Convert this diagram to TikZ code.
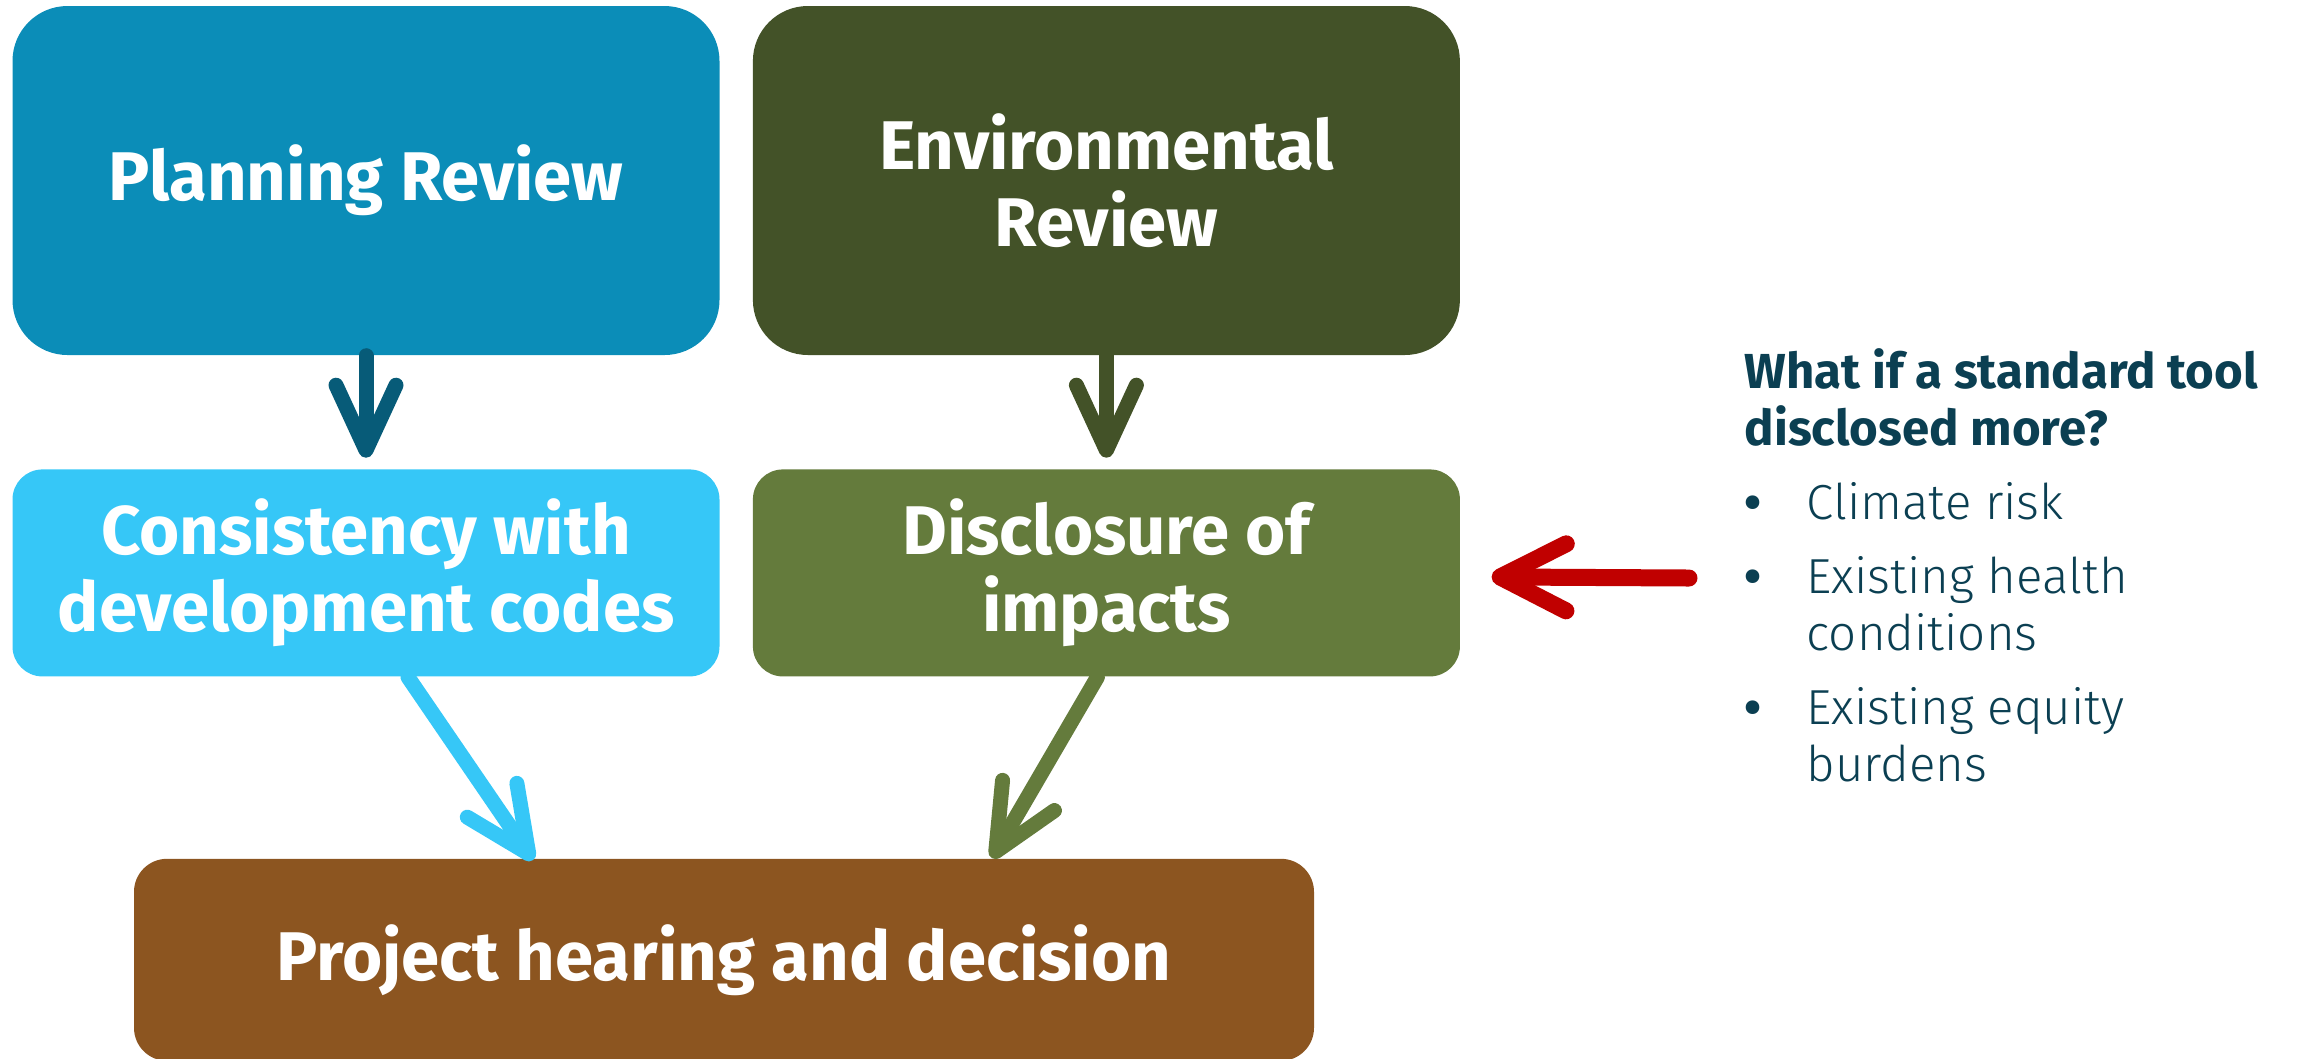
\documentclass[tikz,border=0pt]{standalone}
\usepackage{fontspec}
\setmainfont{Fira Sans}
\newfontfamily\lightfont{Fira Sans Light}
\usetikzlibrary{arrows.meta,positioning}
\definecolor{planblue}{HTML}{0B8DB8}
\definecolor{plandark}{HTML}{075B78}
\definecolor{envgreen}{HTML}{435228}
\definecolor{codeblue}{HTML}{36C7F7}
\definecolor{impgreen}{HTML}{647B3C}
\definecolor{projbrown}{HTML}{8C5520}
\definecolor{askred}{HTML}{C00000}
\definecolor{askteal}{HTML}{0B3F52}
\newcommand{\askbullet}{{\bfseries\textbullet}}
\tikzset{box style/.style={rectangle,inner sep=0,text=white,align=center,font=\bfseries\fontsize{19.6}{22}\selectfont,minimum width=70.7mm},
	big box/.style={box style,rounded corners=5.5mm,minimum height=34.9mm},
	small box/.style={box style,rounded corners=3mm,minimum height=20.7mm},
	flow arrow/.style={line width=1.5mm,line cap=round,-{Straight Barb[length=6.5mm,width=6mm,line cap=round,line join=round]}}}

\begin{document}
\begin{tikzpicture}[node distance = 3.2mm]
	\useasboundingbox (0,0) rectangle (230.2mm,-105.8mm);

	\node[big box, fill=planblue] at (36.6mm,-18.05mm) (plan) {Planning Review};
	\node[big box, fill=envgreen] [right = of plan] (env) {Environmental\\Review};
	\node[small box, fill=codeblue] [below = 11.3mm of plan] (codes) {Consistency with\\development codes};
	\node[small box, fill=impgreen] [right = of codes] (impacts) {Disclosure of\\impacts};
	\node[small box, fill=projbrown, minimum width=118mm, minimum height=20.2mm, rounded corners=3.3mm] [below = 18.1mm of codes, xshift = 35.8mm] (proj) {Project hearing and decision};

	% question and list
	\node[anchor=north west, inner sep=0, text=askteal, font=\fontsize{14}{16.2}\selectfont] at (174.4mm,-34.8mm) (ask) {%
		\begin{tabular}{@{}p{6.2mm}@{}l@{}}
			\multicolumn{2}{@{}l@{}}{\bfseries What if a standard tool}\\
			\multicolumn{2}{@{}l@{}}{\bfseries disclosed more?}\\[1.7mm]
			\askbullet & \lightfont Climate risk\\[1.7mm]
			\askbullet & \lightfont Existing health\\
			& \lightfont conditions\\[1.7mm]
			\askbullet & \lightfont Existing equity\\
			& \lightfont burdens
		\end{tabular}};
	\coordinate (askend) at (168.9mm,-57.8mm);

	\path[flow arrow]
	(plan) edge [draw=plandark] ([yshift=1.1mm]codes.north)
	(env) edge [draw=envgreen] ([yshift=1.1mm]impacts.north)
	([xshift=4.2mm]codes.south) edge [draw=codeblue] ([xshift=-19.1mm,yshift=-0.2mm]proj.north)
	([xshift=-0.9mm]impacts.south) edge [draw=impgreen] ([xshift=26.8mm]proj.north)
	(askend) edge [draw=askred, line width=1.7mm, -{Straight Barb[length=6.6mm,width=6.7mm,line cap=round,line join=round]}] ([xshift=3.1mm,yshift=-0.4mm]impacts.east)
	;

\end{tikzpicture}
\end{document}
